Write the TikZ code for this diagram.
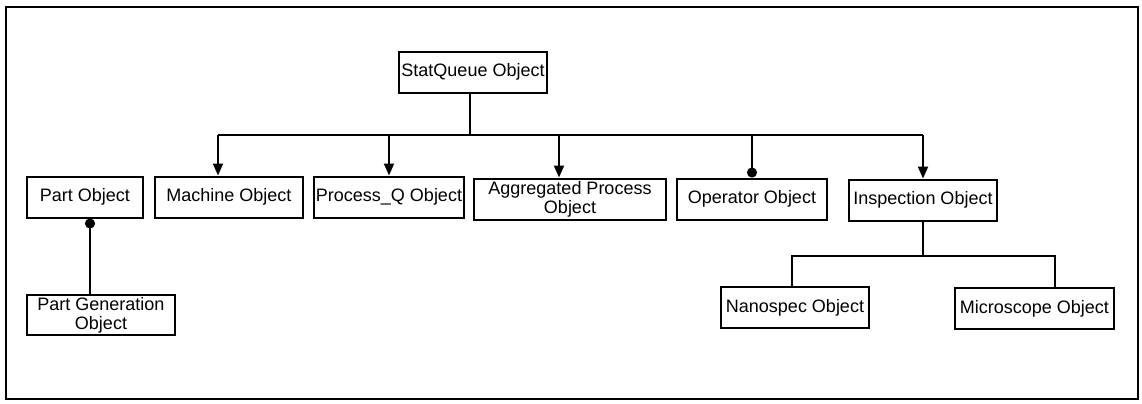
\documentclass[tikz,border=0pt]{standalone}
\usepackage{fontspec}
\setmainfont{Liberation Sans}
\usetikzlibrary{arrows.meta}

\begin{document}
\begin{tikzpicture}[x=0.5pt,y=-0.5pt,line join=miter,
	obj/.style={draw,line width=1pt,inner sep=1pt,align=center,
		font=\fontsize{9}{9.6}\selectfont,minimum height=20.5pt},
	wire/.style={line width=1pt},
	arr/.style={wire,-{Triangle[width=5pt,length=6pt]}},
	dotend/.style={wire,-{Circle[length=5pt]}},
	dotstart/.style={wire,{Circle[length=5pt]}-}]
	\useasboundingbox (0,0) rectangle (1142,403);
	\draw[line width=1pt] (6,7) rectangle (1138,399);
	% class boxes
	\node[obj,minimum width=74pt] (stat) at (473,72) {StatQueue Object};
	\node[obj,minimum width=58pt] (part) at (85,197) {Part Object};
	\node[obj,minimum width=74pt] (mach) at (229,197) {Machine Object};
	\node[obj,minimum width=74pt] (procq) at (389,197) {Process\_Q Object};
	\node[obj,minimum width=96pt] (aggr) at (570,199) {Aggregated Process\\Object};
	\node[obj,minimum width=75pt] (oper) at (752,199) {Operator Object};
	\node[obj,minimum width=74pt] (insp) at (923,200) {Inspection Object};
	\node[obj,minimum width=74pt] (nano) at (795,307.5) {Nanospec Object};
	\node[obj,minimum width=79.5pt] (micro) at (1034.5,308.5) {Microscope Object};
	\node[obj,minimum width=74pt,minimum height=20pt] (pgen) at (101,315) {Part Generation\\Object};
	% links
	\coordinate (top) at (470,135);
	\coordinate (isub) at (923,256);
	\draw[wire] (stat.south -| top) -- (top);
	\draw[wire] ([xshift=-5.5pt]mach.north |- top) -- (top -| insp.north);
	\foreach \n/\dx in {mach/-5.5pt,procq/0pt,aggr/-5.5pt,insp/0pt}
		\draw[arr] ([xshift=\dx]\n.north |- top) -- ([xshift=\dx]\n.north);
	\draw[dotend] (oper.north |- top) -- (oper.north);
	\draw[dotstart] ([xshift=2.5pt]part.south) -- ([xshift=2.5pt]part.south |- pgen.north);
	\draw[wire] (insp.south) -- (isub);
	\draw[wire] ([xshift=-1.5pt]nano.north) |- (isub) -| ([xshift=10.25pt]micro.north);
\end{tikzpicture}
\end{document}
